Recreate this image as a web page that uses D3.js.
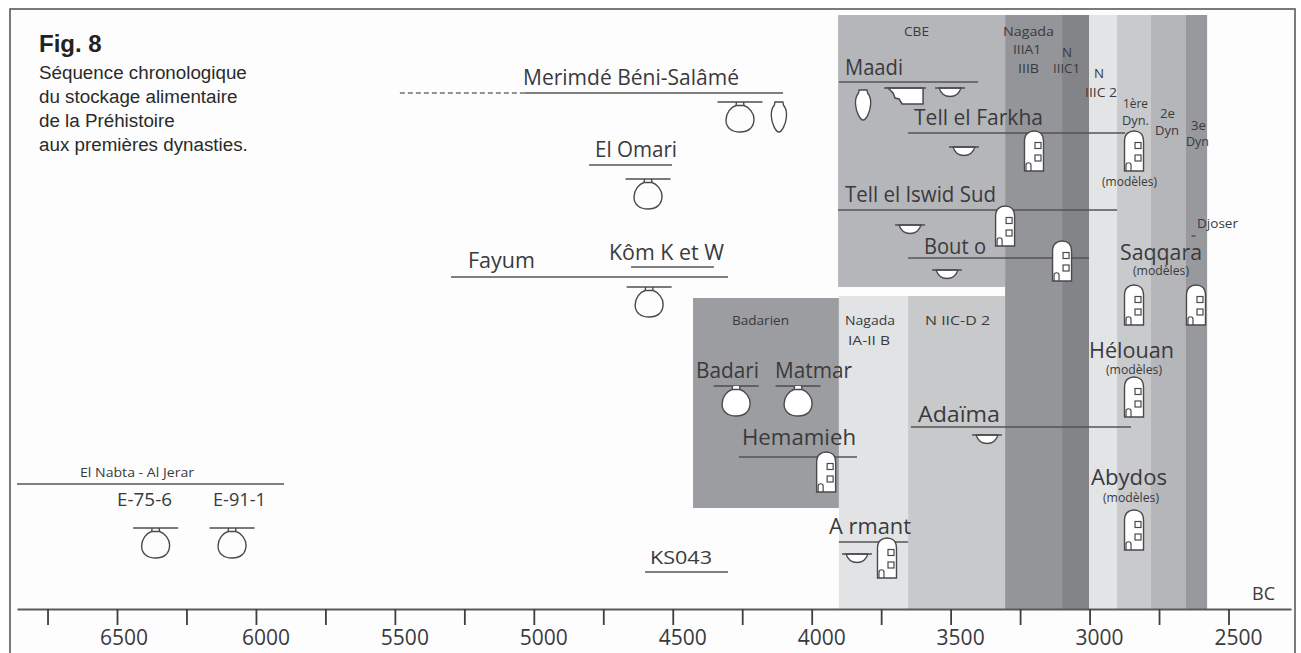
<!DOCTYPE html>
<html>

<head>
    <meta charset="UTF-8">
    <style>
        html, body { margin: 0; padding: 0; background: #fff; overflow: hidden; }
        svg { display: block; }
        text { font-family: "Open Sans", sans-serif; fill: #3a3a3c; }
    </style>
</head>

<body>
    <svg></svg>
    <script src="https://d3js.org/d3.v7.min.js"></script>

    <script>
        let width = 1301, height = 653;

        // Periods: name, from, to (years BC), top of the band (height above the axis), bottom
        const periodNames = ["CBE", "Badarien", "Nagada I-II B", "N IIC-D", "Nagada IIIA1-IIIB", "N IIIC1", "N IIIC2", "1ere Dyn", "2e Dyn", "3e Dyn"];
        const periodFrom = [3905, 4427, 3902, 3653, 3304, 3099, 3002, 2901, 2779, 2653];
        const periodTo = [3304, 3902, 3653, 3304, 3099, 3002, 2901, 2779, 2653, 2577];
        const periodTop = [594, 311, 313, 313, 594, 594, 594, 594, 594, 594];
        const periodBottom = [322, 101, 0, 0, 0, 0, 0, 0, 0, 0];
        const periodColors = ["#b5b6b9", "#9c9da0", "#e2e3e5", "#c8c9cb", "#949598", "#838487", "#e3e4e6", "#c9cacc", "#b5b6b9", "#98999c"];

        // Site occupation lines
        const siteNames = ["Merimdé", "El Omari", "Fayum", "Kôm K et W", "El Nabta", "KS043", "Maadi", "Tell el Farkha", "Tell el Iswid Sud", "Bouto", "Hemamieh", "Armant", "Adaïma"];
        const siteFrom = [5032, 4801, 5298, 4650, 6860, 4600, 3902, 3653, 3905, 3653, 4262, 3902, 3643];
        const siteTo = [4103, 4503, 4301, 4352, 5899, 4301, 3401, 2872, 2901, 3002, 3837, 3653, 2851];
        const siteLevel = [516, 444, 332, 342, 125, 37, 527, 476, 399, 351, 152, 67, 182];

        // Objects on the time line
        const jarYears = [6361, 6086, 4258, 4589, 4585, 4272, 4049];
        const jarLevels = [81, 81, 507, 430, 322, 223, 223];
        const jarFilled = [false, false, false, false, false, true, true];
        const tallJarYears = [4118, 3815];
        const tallJarLevels = [507, 519];
        const tallJarFilled = [false, true];
        const bowlYears = [3502, 3452, 3646, 3513, 3369, 3837];
        const bowlLevels = [521, 462, 384, 339, 174, 55];
        const houseYears = [3200, 2840, 3304, 3099, 2840, 2617, 2840, 2840, 3948, 3729];
        const houseLevels = [478, 478, 403, 368, 324, 324, 232, 99, 157, 71];
        const basinYear = 3664, basinLevel = 521;

        // Axis
        const tickYears = d3.range(6750, 2499, -250);
        const labelledYears = [6500, 6000, 5500, 5000, 4500, 4000, 3500, 3000, 2500];

        // Texts: string, x, baseline, size, width
        const labels = [
            ["Merimdé Béni-Salâmé", 523, 85, 22, 216], ["El Omari", 595, 157, 22, 82], ["Fayum", 468, 268, 22, 67],
            ["Kôm K et W", 609, 260, 22, 115], ["Maadi", 845, 75, 22, 58], ["Tell el Farkha", 914, 125, 22, 129],
            ["Tell el Iswid Sud", 845, 202, 22, 151], ["Bout o", 924, 254, 22, 62], ["Saqqara", 1120, 260, 22, 82],
            ["Hélouan", 1089, 358, 22, 85], ["Abydos", 1091, 485, 22, 76], ["Badari", 696, 378, 22, 63],
            ["Matmar", 775, 378, 22, 77], ["Hemamieh", 742, 445, 22, 114], ["A rmant", 829, 534, 22, 82],
            ["Adaïma", 918, 422, 22, 82], ["KS043", 650, 564, 19, 62], ["E-75-6", 117, 506, 18.5, 55],
            ["E-91-1", 213, 506, 18.5, 53], ["BC", 1252, 600, 18, 23],
            ["(modèles)", 1102, 186, 12.5, 55], ["(modèles)", 1133, 275, 12.5, 56], ["(modèles)", 1106, 374, 12.5, 56], ["(modèles)", 1103, 502, 12.5, 56],
            ["El Nabta - Al Jerar", 80, 477, 13.5, 114], ["CBE", 904, 36, 13.5, 25], ["Nagada", 1003, 36, 13.5, 51],
            ["IIIA1", 1013, 54, 13.5, 28], ["IIIB", 1018, 73, 13.5, 21], ["N", 1062, 57, 13.5, 10], ["IIIC1", 1053, 73, 13.5, 27],
            ["N", 1094, 78, 13.5, 10], ["IIIC 2", 1085, 97, 13.5, 32], ["1ère", 1123, 108, 13.5, 25], ["Dyn.", 1122, 125, 13.5, 27],
            ["2e", 1160, 118, 13.5, 15], ["Dyn", 1155, 135, 13.5, 24], ["3e", 1191, 130, 13.5, 15], ["Dyn", 1186, 146, 13.5, 23],
            ["Djoser", 1197, 228, 12.5, 41], ["Badarien", 732, 325, 13.5, 57], ["Nagada", 845, 325, 13.5, 50],
            ["IA-II  B", 848, 345, 13.5, 42], ["N IIC-D  2", 925, 325, 13.5, 65]
        ];

        const captionLines = ["Séquence chronologique", "du stockage alimentaire", "de la Préhistoire", "aux premières dynasties."];

        let svg = d3.select("svg")
            .attr("width", width)
            .attr("height", height)
            .attr("viewBox", "0 0 " + width + " " + height);

        let x = d3.scaleLinear().domain([6500, 2500]).range([117, 1228.5]);
        let y = d3.scaleLinear().domain([0, 600]).range([609, 9]);

        // frame of the figure
        svg.append("rect").attr("x", 10).attr("y", 9).attr("width", 1285).attr("height", 660)
            .style("fill", "#fdfdfd").style("stroke", "#5a5a5c").style("stroke-width", 1.6);

        // period bands
        svg.append("g").selectAll("rect")
            .data(periodNames)
            .enter()
            .append("rect")
            .attr("x", (d, i) => x(periodFrom[i]))
            .attr("y", (d, i) => y(periodTop[i]))
            .attr("width", (d, i) => x(periodTo[i]) - x(periodFrom[i]))
            .attr("height", (d, i) => y(periodBottom[i]) - y(periodTop[i]))
            .style("fill", (d, i) => periodColors[i]);

        // site lines
        svg.append("g").selectAll("line")
            .data(siteNames)
            .enter()
            .append("line")
            .attr("x1", (d, i) => x(siteFrom[i]))
            .attr("x2", (d, i) => x(siteTo[i]))
            .attr("y1", (d, i) => y(siteLevel[i]))
            .attr("y2", (d, i) => y(siteLevel[i]))
            .style("stroke", "#545456")
            .style("stroke-width", 1.6);

        // uncertain start of Merimde
        svg.append("line")
            .attr("x1", x(5482)).attr("x2", x(siteFrom[0]))
            .attr("y1", y(siteLevel[0])).attr("y2", y(siteLevel[0]))
            .style("stroke", "#707072").style("stroke-width", 1.4).style("stroke-dasharray", "5,3");

        function shelf(g) {
            g.append("line").attr("x1", -22.5).attr("x2", 22.5).attr("y1", 0).attr("y2", 0)
                .style("stroke", "#4e4e50").style("stroke-width", 1.5);
        }

        // round storage jar hanging under a short line
        function drawJar(year, level, filled) {
            let g = svg.append("g").attr("transform", "translate(" + x(year) + "," + y(level) + ")");
            shelf(g);
            g.append("path")
                .attr("d", "M-3.5,0 L-4,3.5 C-9,5 -14,11 -14,18 C-14,26 -8,30 0,30 C8,30 14,26 14,17 C14,11 9,5 4,3.5 L3.5,0 M-4,3.5 L4,3.5")
                .style("fill", filled ? "#fff" : "none")
                .style("stroke", "#4a4a4c").style("stroke-width", 1.4);
        }

        function drawTallJar(year, level, filled) {
            svg.append("path")
                .attr("transform", "translate(" + x(year) + "," + y(level) + ")")
                .attr("d", "M-4,0 L4,0 L4.5,3 C7,6 8,10 7.5,15 C7,22 3,30 0,30 C-3,30 -7,22 -7.5,15 C-8,10 -7,6 -4.5,3 Z")
                .style("fill", filled ? "#fff" : "none")
                .style("stroke", "#4a4a4c").style("stroke-width", 1.4);
        }

        function drawBowl(year, level) {
            let g = svg.append("g").attr("transform", "translate(" + x(year) + "," + y(level) + ")");
            g.append("path").attr("d", "M-11,0 C-9,6 -5,8.5 0,8.5 C5,8.5 9,6 11,0 Z")
                .style("fill", "#fff").style("stroke", "#4a4a4c").style("stroke-width", 1.3);
            g.append("line").attr("x1", -15).attr("x2", 15).attr("y1", 0).attr("y2", 0)
                .style("stroke", "#4e4e50").style("stroke-width", 1.5);
        }

        function drawBasin(year, level) {
            let g = svg.append("g").attr("transform", "translate(" + x(year) + "," + y(level) + ")");
            g.append("path").attr("d", "M-17,0 L18,0 L18,16 L-3,16 L-6,11 L-10,10 L-12,5 Z")
                .style("fill", "#fff").style("stroke", "#4a4a4c").style("stroke-width", 1.5);
            g.append("line").attr("x1", -21).attr("x2", 21).attr("y1", 0).attr("y2", 0)
                .style("stroke", "#4e4e50").style("stroke-width", 1.5);
        }

        // granary model: rounded top, two windows and a small door
        function drawHouse(year, level) {
            let g = svg.append("g").attr("transform", "translate(" + x(year) + "," + y(level) + ")");
            g.append("path").attr("d", "M-9.5,40 L-9.5,10 C-9.5,3 -5,0 0,0 C5,0 9.5,3 9.5,10 L9.5,40 Z")
                .style("fill", "#fff").style("stroke", "#4a4a4c").style("stroke-width", 1.4);
            g.append("rect").attr("x", 1).attr("y", 11.5).attr("width", 6).attr("height", 6)
                .style("fill", "#fff").style("stroke", "#4a4a4c").style("stroke-width", 1.2);
            g.append("rect").attr("x", 1).attr("y", 24).attr("width", 6).attr("height", 6)
                .style("fill", "#fff").style("stroke", "#4a4a4c").style("stroke-width", 1.2);
            g.append("path").attr("d", "M-8,40 L-8,34 C-8,31 -3,31 -3,34 L-3,40")
                .style("fill", "none").style("stroke", "#4a4a4c").style("stroke-width", 1.2);
        }

        jarYears.forEach((d, i) => drawJar(d, jarLevels[i], jarFilled[i]));
        tallJarYears.forEach((d, i) => drawTallJar(d, tallJarLevels[i], tallJarFilled[i]));
        bowlYears.forEach((d, i) => drawBowl(d, bowlLevels[i]));
        drawBasin(basinYear, basinLevel);
        houseYears.forEach((d, i) => drawHouse(d, houseLevels[i]));

        // small tick under Djoser
        svg.append("line")
            .attr("x1", x(2633)).attr("x2", x(2619))
            .attr("y1", y(373)).attr("y2", y(373))
            .style("stroke", "#4e4e50").style("stroke-width", 1.4);

        // all the labels
        svg.append("g").selectAll("text")
            .data(labels)
            .enter()
            .append("text")
            .attr("x", d => d[1])
            .attr("y", d => d[2])
            .attr("textLength", d => d[4])
            .attr("lengthAdjust", "spacingAndGlyphs")
            .style("font-size", d => d[3] + "px")
            .text(d => d[0]);

        // time axis
        let axisScale = x.copy().domain([6860, 2275]).range([x(6860), x(2275)]);
        let axis = svg.append("g")
            .attr("transform", "translate(0," + y(0) + ")")
            .call(d3.axisBottom(axisScale)
                .tickValues(tickYears)
                .tickSize(16)
                .tickSizeOuter(0)
                .tickFormat(d => labelledYears.includes(d) ? d3.format("d")(d) : ""));
        axis.select(".domain").style("stroke", "#5a5a5c").style("stroke-width", 1.8);
        axis.selectAll("line").style("stroke", "#3e3e40").style("stroke-width", 1.8);
        axis.selectAll("text")
            .attr("dx", d => d === 6500 ? 6.5 : 9.5)
            .attr("y", 36)
            .attr("dy", 0)
            .style("font-family", "'Open Sans', sans-serif")
            .style("font-size", "21px")
            .style("fill", "#3a3a3c");

        // caption
        svg.append("text").attr("x", 39).attr("y", 52)
            .style("font-family", "'Liberation Sans', sans-serif")
            .style("font-weight", "bold").style("font-size", "24px").style("fill", "#222")
            .text("Fig. 8");
        svg.append("g").selectAll("text")
            .data(captionLines)
            .enter()
            .append("text")
            .attr("x", 39)
            .attr("y", (d, i) => 79 + i * 24)
            .style("font-family", "'Liberation Sans', sans-serif")
            .style("font-size", "18.8px")
            .style("fill", "#2a2a2a")
            .text(d => d);
    </script>

</body>

</html>
